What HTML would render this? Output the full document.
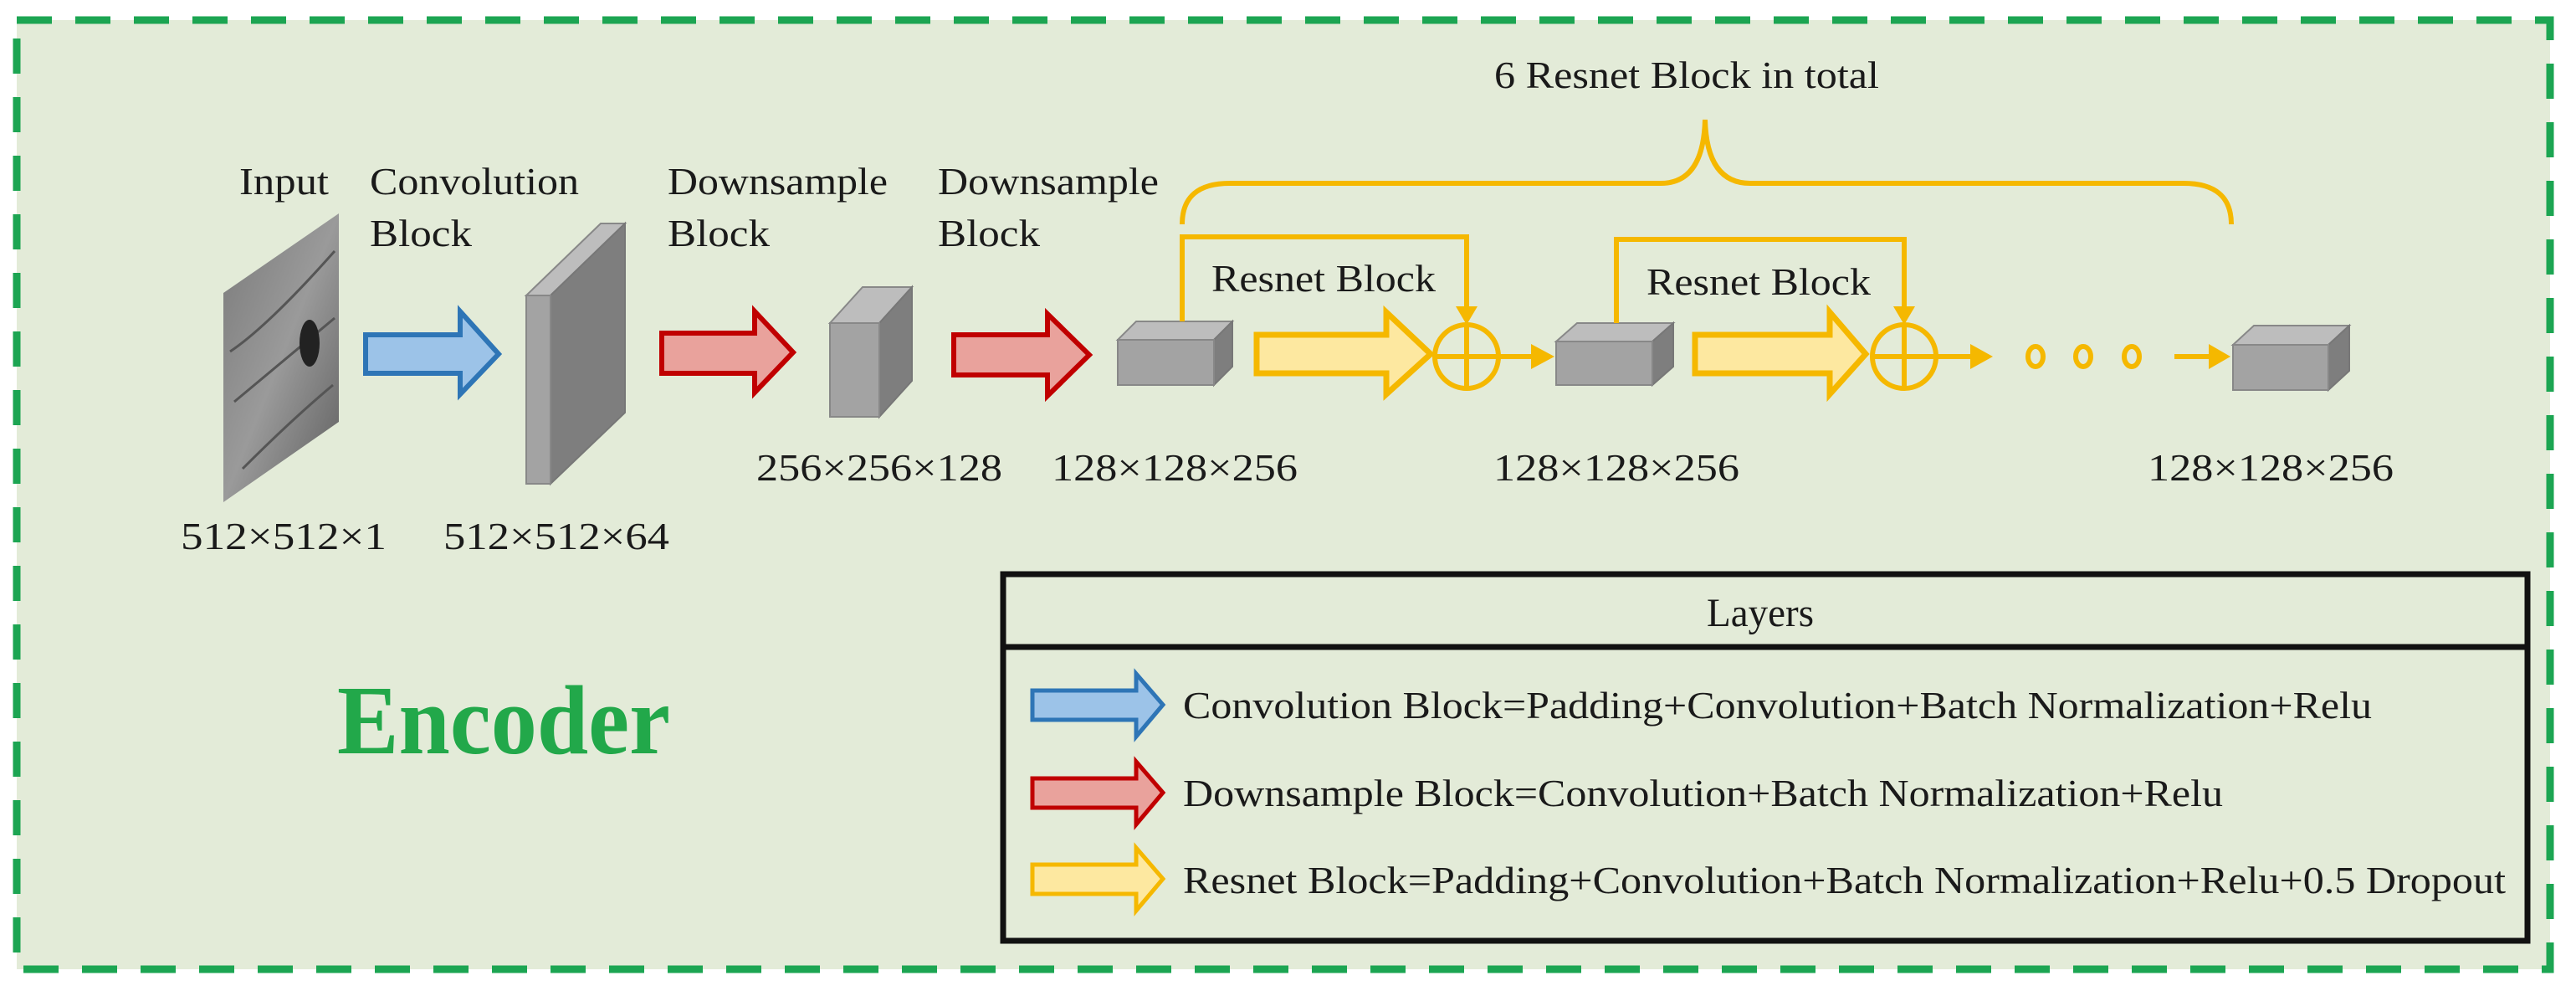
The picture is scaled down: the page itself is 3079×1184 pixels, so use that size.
<!DOCTYPE html>
<html><head><meta charset="utf-8"><style>
html,body{margin:0;padding:0;background:#fff;}
svg{display:block;}
text{font-family:"Liberation Serif",serif;fill:#1a1a1a;}
</style></head><body>
<svg width="3079" height="1184" viewBox="0 0 3079 1184" xmlns="http://www.w3.org/2000/svg">
<defs>
<linearGradient id="img" x1="0" y1="0" x2="1" y2="1">
<stop offset="0" stop-color="#7a7a7a"/><stop offset="0.5" stop-color="#9a9a9a"/><stop offset="1" stop-color="#5e5e5e"/>
</linearGradient>
</defs>
<rect x="20" y="24" width="3028" height="1134" fill="#e3ebd8" stroke="#1ca552" stroke-width="9" stroke-dasharray="42 28"/>

<!-- top labels -->
<text x="286" y="232" font-size="46" textLength="107" lengthAdjust="spacingAndGlyphs">Input</text>
<text x="442" y="232" font-size="46" textLength="250" lengthAdjust="spacingAndGlyphs">Convolution</text>
<text x="442" y="294" font-size="46" textLength="122" lengthAdjust="spacingAndGlyphs">Block</text>
<text x="798" y="232" font-size="46" textLength="263" lengthAdjust="spacingAndGlyphs">Downsample</text>
<text x="798" y="294" font-size="46" textLength="122" lengthAdjust="spacingAndGlyphs">Block</text>
<text x="1121" y="232" font-size="46" textLength="264" lengthAdjust="spacingAndGlyphs">Downsample</text>
<text x="1121" y="294" font-size="46" textLength="122" lengthAdjust="spacingAndGlyphs">Block</text>
<text x="1786" y="105" font-size="46" textLength="460" lengthAdjust="spacingAndGlyphs">6 Resnet Block in total</text>
<text x="1448" y="348" font-size="46" textLength="268" lengthAdjust="spacingAndGlyphs">Resnet Block</text>
<text x="1968" y="352" font-size="46" textLength="268" lengthAdjust="spacingAndGlyphs">Resnet Block</text>

<!-- bottom labels -->
<text x="216" y="656" font-size="46" textLength="246" lengthAdjust="spacingAndGlyphs">512×512×1</text>
<text x="530" y="656" font-size="46" textLength="270" lengthAdjust="spacingAndGlyphs">512×512×64</text>
<text x="904" y="574" font-size="46" textLength="294" lengthAdjust="spacingAndGlyphs">256×256×128</text>
<text x="1257" y="574" font-size="46" textLength="294" lengthAdjust="spacingAndGlyphs">128×128×256</text>
<text x="1785" y="574" font-size="46" textLength="294" lengthAdjust="spacingAndGlyphs">128×128×256</text>
<text x="2567" y="574" font-size="46" textLength="294" lengthAdjust="spacingAndGlyphs">128×128×256</text>

<!-- input image -->
<polygon points="267,350 405,255 405,504 267,600" fill="url(#img)"/>
<path d="M275,420 Q320,390 400,300 M280,480 Q340,430 400,380 M290,560 Q350,500 398,460" stroke="#555" stroke-width="3" fill="none"/>
<ellipse cx="370" cy="410" rx="12" ry="28" fill="#222"/>

<!-- conv slab -->
<polygon points="629,353 658,353 747,267 718,267" fill="#bdbdbd" stroke="#888" stroke-width="2"/>
<polygon points="658,353 747,267 747,493 658,578" fill="#7e7e7e" stroke="#777" stroke-width="2"/>
<rect x="629" y="353" width="29" height="225" fill="#a3a3a3" stroke="#888" stroke-width="2"/>

<!-- cube 256 -->
<polygon points="992,386 1051,386 1090,343 1031,343" fill="#bdbdbd" stroke="#888" stroke-width="2"/>
<polygon points="1051,386 1090,343 1090,455 1051,498" fill="#7e7e7e" stroke="#777" stroke-width="2"/>
<rect x="992" y="386" width="59" height="112" fill="#a3a3a3" stroke="#888" stroke-width="2"/>

<!-- cube1 -->
<polygon points="1336,406 1451,406 1473,384 1358,384" fill="#bdbdbd" stroke="#888" stroke-width="2"/>
<polygon points="1451,406 1473,384 1473,438 1451,460" fill="#7e7e7e" stroke="#777" stroke-width="2"/>
<rect x="1336" y="406" width="115" height="54" fill="#a3a3a3" stroke="#888" stroke-width="2"/>
<!-- cube2 -->
<polygon points="1860,408 1975,408 2000,386 1885,386" fill="#bdbdbd" stroke="#888" stroke-width="2"/>
<polygon points="1975,408 2000,386 2000,438 1975,460" fill="#7e7e7e" stroke="#777" stroke-width="2"/>
<rect x="1860" y="408" width="115" height="52" fill="#a3a3a3" stroke="#888" stroke-width="2"/>
<!-- cube3 -->
<polygon points="2669,412 2783,412 2808,389 2694,389" fill="#bdbdbd" stroke="#888" stroke-width="2"/>
<polygon points="2783,412 2808,389 2808,443 2783,466" fill="#7e7e7e" stroke="#777" stroke-width="2"/>
<rect x="2669" y="412" width="114" height="54" fill="#a3a3a3" stroke="#888" stroke-width="2"/>

<!-- big arrows -->
<polygon points="437,400 550,400 550,372 596,423 550,471 550,446 437,446" fill="#9cc3e8" stroke="#2e75b6" stroke-width="6" stroke-linejoin="miter"/>
<polygon points="791,398 902,398 902,372 948,421 902,469 902,446 791,446" fill="#e9a29c" stroke="#c00000" stroke-width="6"/>
<polygon points="1140,400 1252,400 1252,375 1302,424 1252,473 1252,448 1140,448" fill="#e9a29c" stroke="#c00000" stroke-width="6"/>
<polygon points="1502,400 1657,400 1657,373 1710,423 1657,471 1657,446 1502,446" fill="#fde8a0" stroke="#f5b800" stroke-width="7"/>
<polygon points="2026,400 2187,400 2187,373 2230,423 2187,471 2187,446 2026,446" fill="#fde8a0" stroke="#f5b800" stroke-width="7"/>

<!-- brace and skips -->
<g fill="none" stroke="#f5b800" stroke-width="6">
<path d="M1413,268 Q1413,219 1470,219 L1985,219 Q2036,219 2038,143 Q2040,219 2092,219 L2610,219 Q2667,219 2667,268"/>
<path d="M1413,384 L1413,283 L1753,283 L1753,372"/>
<path d="M1932,386 L1932,286 L2276,286 L2276,372"/>
<circle cx="1753" cy="426" r="38"/>
<line x1="1715" y1="426" x2="1791" y2="426"/><line x1="1753" y1="388" x2="1753" y2="464"/>
<circle cx="2276" cy="426" r="38"/>
<line x1="2238" y1="426" x2="2314" y2="426"/><line x1="2276" y1="388" x2="2276" y2="464"/>
<line x1="1791" y1="426" x2="1835" y2="426"/>
<line x1="2314" y1="426" x2="2360" y2="426"/>
<line x1="2599" y1="426" x2="2645" y2="426"/>
<ellipse cx="2433" cy="426" rx="9" ry="12"/>
<ellipse cx="2490" cy="426" rx="9" ry="12"/>
<ellipse cx="2548" cy="426" rx="9" ry="12"/>
</g>
<g fill="#f5b800">
<polygon points="1740,366 1766,366 1753,388"/>
<polygon points="2263,366 2289,366 2276,388"/>
<polygon points="1830,411 1858,426 1830,441"/>
<polygon points="2355,411 2382,426 2355,441"/>
<polygon points="2640,411 2666,426 2640,441"/>
</g>

<!-- Encoder -->
<text x="403" y="900" font-size="118" font-weight="bold" style="fill:#22a84a" textLength="398" lengthAdjust="spacingAndGlyphs">Encoder</text>

<!-- legend -->
<rect x="1199" y="686" width="1822" height="438" fill="none" stroke="#111" stroke-width="7"/>
<line x1="1199" y1="773" x2="3021" y2="773" stroke="#111" stroke-width="7"/>
<text x="2040" y="748" font-size="48" textLength="128" lengthAdjust="spacingAndGlyphs">Layers</text>
<polygon points="1234,825 1358,825 1358,805 1390,842 1358,880 1358,860 1234,860" fill="#9cc3e8" stroke="#2e75b6" stroke-width="5"/>
<polygon points="1234,930 1358,930 1358,910 1390,947 1358,985 1358,965 1234,965" fill="#e9a29c" stroke="#c00000" stroke-width="5"/>
<polygon points="1234,1033 1358,1033 1358,1013 1390,1050 1358,1088 1358,1068 1234,1068" fill="#fde8a0" stroke="#f5b800" stroke-width="5"/>
<text x="1414" y="858" font-size="46" textLength="1421" lengthAdjust="spacingAndGlyphs">Convolution Block=Padding+Convolution+Batch Normalization+Relu</text>
<text x="1414" y="963" font-size="46" textLength="1243" lengthAdjust="spacingAndGlyphs">Downsample Block=Convolution+Batch Normalization+Relu</text>
<text x="1414" y="1067" font-size="46" textLength="1581" lengthAdjust="spacingAndGlyphs">Resnet Block=Padding+Convolution+Batch Normalization+Relu+0.5 Dropout</text>
</svg>
</body></html>
